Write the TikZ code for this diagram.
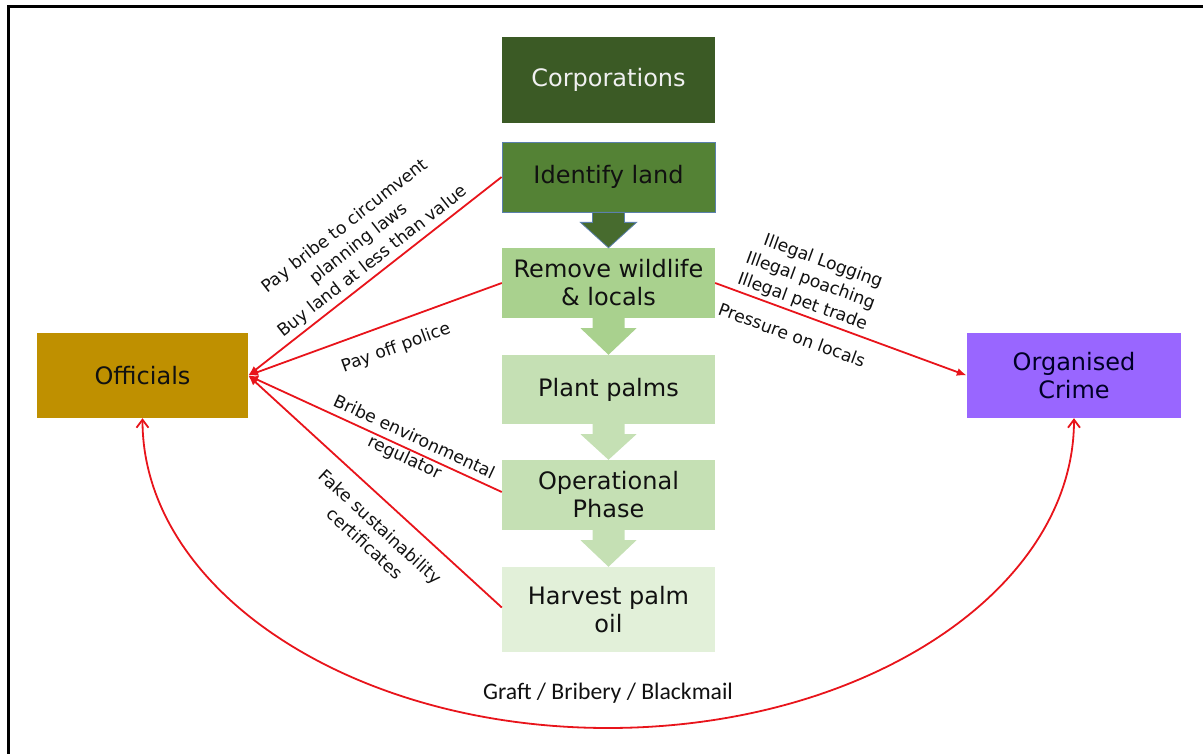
\documentclass[tikz,border=0pt]{standalone}
\usepackage{fontspec}
\setmainfont{DejaVu Sans}
\newfontfamily\carl{Carlito}
\usetikzlibrary{arrows.meta,calc}
\definecolor{corpc}{HTML}{3B5A25}
\definecolor{identc}{HTML}{548235}
\definecolor{identb}{HTML}{5B80AC}
\definecolor{arrowa}{HTML}{476B2E}
\definecolor{removec}{HTML}{A9D18E}
\definecolor{plantc}{HTML}{C5E0B4}
\definecolor{harvc}{HTML}{E2F0D9}
\definecolor{offc}{HTML}{BF9000}
\definecolor{crimec}{HTML}{9966FF}
\definecolor{redc}{HTML}{E8141B}
\definecolor{txt}{HTML}{111111}
\tikzset{
  box/.style={rectangle, minimum width=213pt, minimum height=70pt, inner sep=0pt,
    align=center, text=txt, font=\fontsize{24}{28}\selectfont},
  elab/.style={inner sep=0pt, text=txt, font=\fontsize{17.2}{22.5}\selectfont},
  redline/.style={draw=redc, line width=1.8pt, -{Latex[length=10pt,width=8pt]}},
}
\begin{document}
\begin{tikzpicture}[x=1pt,y=-1pt]
\useasboundingbox (0,0) rectangle (1203,754);
\draw[line width=3pt] (8,754) -- (8,7) -- (1203,7);

% column boxes
\node[box, fill=corpc, minimum height=86pt, text=white!94!black] (corp) at (608.5,80) {Corporations};
\node[box, fill=identc, draw=identb, line width=0.8pt] (ident) at (608.5,177) {Identify land};
\node[box, fill=removec] (remove) at (608.5,283) {Remove wildlife\\\& locals};
\node[box, fill=plantc, minimum height=69pt] (plant) at (608.5,389.5) {Plant palms};
\node[box, fill=plantc] (oper) at (608.5,495) {Operational\\Phase};
\node[box, fill=harvc, minimum height=85pt] (harv) at (608.5,609.5) {Harvest palm\\oil};

% side boxes
\node[box, fill=offc, minimum width=211pt, minimum height=85pt] (off) at (142.5,375.5) {Officials};
\node[box, fill=crimec, minimum width=214pt, minimum height=85pt, text=black!85!blue] (crime) at (1074,375.5) {Organised\\Crime};

% block arrows
\filldraw[fill=arrowa, draw=identb, line width=0.8pt]
  ($(ident.south)+(-16,0)$) -- ($(ident.south)+(-16,10)$) -- ($(ident.south)+(-28,10)$)
  -- (remove.north) -- ($(ident.south)+(28,10)$) -- ($(ident.south)+(16,10)$)
  -- ($(ident.south)+(16,0)$) -- cycle;
\fill[removec]
  ($(remove.south)+(-16,0)$) -- ($(remove.south)+(-16,10)$) -- ($(remove.south)+(-28,10)$)
  -- (plant.north) -- ($(remove.south)+(28,10)$) -- ($(remove.south)+(16,10)$)
  -- ($(remove.south)+(16,0)$) -- cycle;
\fill[plantc]
  ($(plant.south)+(-16,0)$) -- ($(plant.south)+(-16,10)$) -- ($(plant.south)+(-28,10)$)
  -- (oper.north) -- ($(plant.south)+(28,10)$) -- ($(plant.south)+(16,10)$)
  -- ($(plant.south)+(16,0)$) -- cycle;
\fill[plantc]
  ($(oper.south)+(-16,0)$) -- ($(oper.south)+(-16,10)$) -- ($(oper.south)+(-28,10)$)
  -- (harv.north) -- ($(oper.south)+(28,10)$) -- ($(oper.south)+(16,10)$)
  -- ($(oper.south)+(16,0)$) -- cycle;

% red connectors
\draw[redline] (ident.west) -- (off.east);
\draw[redline] (remove.west) -- (off.east);
\draw[redline] ($(oper.west)+(0,-3)$) -- (off.east);
\draw[redline] ($(harv.west)+(0,-2)$) -- (off.east);
\draw[redline] (remove.east) -- (crime.west);

\coordinate (bot) at (608,728);
\draw[draw=redc, line width=1.8pt, {Straight Barb[length=8pt,width=12pt]}-{Straight Barb[length=8pt,width=12pt]}]
  (off.south) .. controls (142.5,590) and (351,728) .. (bot)
  .. controls (865,728) and (1074,590) .. (crime.south);

% labels
\node[elab, rotate=38, align=center] (l1) at (359,244) {Pay bribe to circumvent\\planning laws\\Buy land at less than value};
\node[elab, rotate=20] (l2) at (396,348) {Pay off police};
\node[elab, rotate=-25, align=center] (l3) at (409,448) {Bribe environmental\\regulator};
\node[elab, rotate=-42.5, align=center] (l4) at (373,535) {Fake sustainability\\certificates};
\node[elab, rotate=-20, align=right] (l5) at (810,281) {Illegal Logging\\Illegal poaching\\Illegal pet trade};
\node[elab, rotate=-20] (l6) at (792,335) {Pressure on locals};
\node[inner sep=0pt, text=txt, font=\carl\fontsize{23.7}{28}\selectfont] (graft) at (608,693) {Graft / Bribery / Blackmail};
\end{tikzpicture}
\end{document}
